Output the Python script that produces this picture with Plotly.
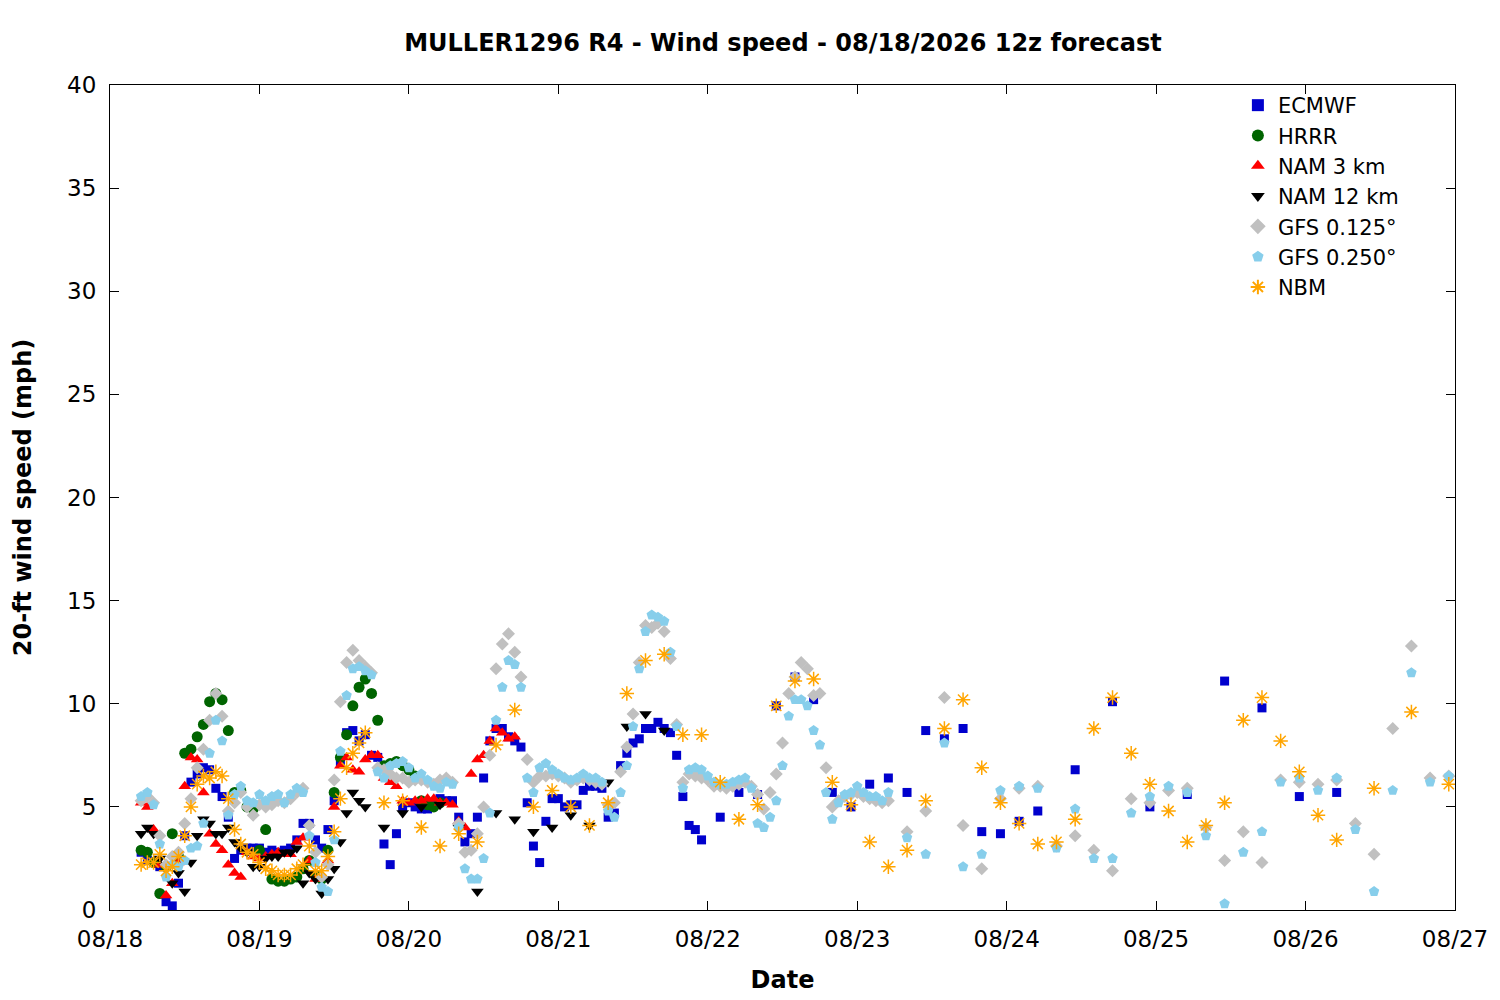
import plotly.graph_objects as go
import pandas as pd

# forecast valid times are stored as hours after 08/18 00:00 local (12z run = hour 5)
BASE = pd.Timestamp("2026-08-18 00:00")

# ECMWF: hourly to +90h, 3-hourly to +144h, then 6-hourly
ecmwf_hours = list(range(5, 96)) + list(range(98, 150, 3)) + list(range(155, 198, 6))
ecmwf_mph = [2.8, 2.4, 2.3, 2.1, 0.4, 0.2, 1.3, 3.6, 6.2, 6.6,
             6.9, 6.8, 5.9, 5.5, 4.5, 2.5, 2.9, 3.0, 3.0, 3.0,
             2.8, 2.9, 2.8, 2.9, 3.0, 3.4, 4.2, 4.2, 3.4, 3.0,
             3.9, 5.3, 7.1, 8.6, 8.7, 8.2, 8.5, 7.5, 7.4, 3.2,
             2.2, 3.7, 5.0, 5.2, 5.0, 4.9, 4.9, 5.2, 5.4, 5.3,
             5.3, 4.5, 3.3, 3.7, 4.5, 6.4, 8.2, 8.8, 8.8, 8.4,
             8.2, 7.9, 5.2, 3.1, 2.3, 4.3, 5.4, 5.4, 5.0, 5.1,
             5.1, 5.8, 6.0, 6.0, 5.9, 4.5, 4.7, 7.0, 7.6, 8.1,
             8.3, 8.8, 8.8, 9.1, 8.8, 8.6, 7.5, 5.5, 4.1, 3.9, 3.4,
             4.5, 5.7, 5.6, 9.9, 11.3, 10.2, 5.7, 5.0, 6.1, 6.4,
             5.7, 8.7, 8.3, 8.8, 3.8, 3.7, 4.3, 4.8,
             6.8, 10.1, 5.0, 5.6, 11.1, 9.8, 5.5, 5.7]

# HRRR: hourly to +48h
hrrr_hours = list(range(5, 54))
hrrr_mph = [2.9, 2.8, 2.3, 0.8, 2.1, 3.7, 2.6, 7.6, 7.8, 8.4,
            9.0, 10.1, 10.5, 10.2, 8.7, 5.7, 5.8, 5.0, 4.9, 2.9,
            3.9, 1.5, 1.4, 1.4, 1.5, 1.6, 2.0, 2.4, 1.7, 1.5,
            2.9, 5.7, 7.4, 8.5, 9.9, 10.8, 11.2, 10.5, 9.2, 7.0,
            7.1, 7.2, 7.0, 6.8, 6.5, 5.3, 5.1, 5.0, 5.2]

# NAM 3 km: hourly to +60h
nam3_hours = list(range(5, 66))
nam3_mph = [5.2, 5.0, 3.9, 2.2, 0.7, 1.3, 2.3, 6.0, 7.4, 7.3,
            5.7, 3.7, 3.2, 2.9, 2.2, 1.8, 1.6, 2.8, 2.6, 2.5,
            2.6, 2.7, 2.8, 2.7, 2.7, 3.3, 3.5, 2.4, 1.5, 1.6,
            2.4, 5.0, 7.0, 7.4, 6.8, 6.7, 7.3, 7.5, 7.5, 6.4,
            6.2, 6.0, 5.3, 5.2, 5.3, 5.3, 5.4, 5.4, 5.2, 5.2,
            5.1, 4.3, 4.0, 6.6, 7.3, 7.5, 8.2, 8.8, 8.6, 8.3, 8.4]

# NAM 12 km: hourly to +36h, then 3-hourly to +84h
nam12_hours = list(range(5, 42)) + list(range(44, 90, 3))
nam12_mph = [3.7, 4.0, 3.7, 2.5, 2.2, 1.3, 1.8, 0.9, 2.3, 3.6,
             4.4, 4.2, 3.7, 3.7, 4.0, 3.3, 3.0, 2.8, 2.1, 2.1,
             2.5, 2.6, 2.6, 2.8, 2.8, 3.0, 1.3, 1.8, 1.5, 0.8,
             1.5, 2.0, 3.3, 4.7, 5.7, 5.3, 5.0,
             4.0, 4.7, 5.0, 5.1, 4.0, 0.9, 4.7, 4.4, 3.8, 4.0,
             4.6, 4.1, 6.2, 8.9, 9.5, 8.7]

# GFS: hourly to +120h, then 3-hourly
gfs_hours = list(range(5, 126)) + list(range(128, 216, 3))
gfs125_mph = [5.3, 5.5, 5.2, 3.6, 2.2, 2.6, 2.8, 4.2, 5.4, 6.9,
              7.8, 9.2, 10.5, 9.4, 4.8, 5.2, 5.7, 5.0, 4.6, 5.1,
              5.0, 5.1, 5.3, 5.2, 5.4, 5.7, 5.9, 4.1, 2.8, 1.6,
              2.2, 6.3, 10.1, 12.0, 12.6, 12.1, 11.8, 11.5, 6.9, 6.8,
              6.6, 6.4, 6.4, 6.2, 6.3, 6.3, 6.2, 6.1, 6.3, 6.4,
              6.2, 4.2, 2.8, 2.9, 3.7, 5.0, 7.5, 11.7, 12.9, 13.4,
              12.5, 11.3, 7.3, 6.2, 6.5, 6.5, 6.6, 6.5, 6.4, 6.2,
              6.3, 6.4, 6.3, 6.2, 6.1, 5.1, 5.2, 6.7, 7.9, 9.5,
              12.0, 13.8, 13.7, 13.9, 13.5, 12.2, 9.0, 6.2, 6.6, 6.5,
              6.4, 6.3, 6.0, 6.0, 5.9, 6.0, 6.1, 6.2, 6.0, 5.6,
              4.9, 5.7, 6.6, 8.1, 10.5, 11.3, 12.0, 11.7, 10.4, 10.5,
              6.9, 5.0, 5.3, 5.5, 5.6, 5.7, 5.5, 5.4, 5.3, 5.2, 5.3,
              3.8, 4.8, 10.3, 4.1, 2.0, 5.4, 5.9, 6.0, 3.1, 3.6,
              2.9, 1.9, 5.4, 5.2, 5.8, 5.9, 4.0, 2.4, 3.8, 2.3,
              6.3, 6.2, 6.1, 6.3, 4.2, 2.7, 8.8, 12.8, 6.4, 6.5]
gfs250_mph = [5.5, 5.7, 5.1, 3.2, 1.6, 2.2, 2.1, 2.4, 3.0, 3.1,
              4.2, 7.6, 9.2, 8.2, 4.6, 5.6, 6.0, 5.3, 5.2, 5.6,
              5.3, 5.5, 5.6, 5.2, 5.6, 5.9, 5.7, 3.6, 2.3, 1.1,
              0.9, 3.4, 7.7, 10.4, 11.7, 11.8, 11.6, 11.4, 6.7, 6.4,
              7.0, 7.1, 7.2, 6.9, 6.4, 6.6, 6.3, 6.0, 5.9, 6.2,
              6.1, 4.0, 2.0, 1.5, 1.5, 2.5, 4.7, 9.2, 10.8, 12.1,
              11.9, 10.8, 6.4, 5.7, 6.9, 7.1, 6.8, 6.6, 6.4, 6.3,
              6.4, 6.6, 6.4, 6.4, 6.2, 4.8, 4.5, 5.7, 7.0, 8.9,
              11.7, 13.5, 14.3, 14.2, 14.0, 12.5, 8.9, 5.9, 6.8, 6.9,
              6.8, 6.5, 6.2, 6.1, 6.1, 6.2, 6.3, 6.4, 5.9, 4.2,
              4.0, 4.5, 5.3, 7.0, 9.4, 10.2, 10.2, 9.9, 8.7, 8.0,
              5.7, 4.4, 5.2, 5.6, 5.7, 6.0, 5.7, 5.5, 5.5, 5.3, 5.7,
              3.5, 2.7, 8.1, 2.1, 2.7, 5.8, 6.0, 5.9, 3.0, 4.9,
              2.5, 2.5, 4.7, 5.5, 6.0, 5.7, 3.6, 0.3, 2.8, 3.8,
              6.2, 6.4, 5.8, 6.4, 3.9, 0.9, 5.8, 11.5, 6.2, 6.5]

# NBM: hourly to +36h, 3-hourly to +192h, then 6-hourly
nbm_hours = list(range(5, 42)) + list(range(44, 198, 3)) + [203, 209, 215]
nbm_mph = [2.2, 2.3, 2.3, 2.7, 1.9, 2.1, 2.6, 3.6, 5.0, 6.1,
           6.5, 6.4, 6.7, 6.5, 5.4, 3.9, 3.2, 2.8, 2.7, 2.3,
           2.0, 1.9, 1.7, 1.7, 1.7, 2.0, 2.2, 3.1, 1.9, 1.9,
           2.6, 3.8, 5.4, 6.9, 7.6, 8.1, 8.6,
           5.2, 5.3, 4.0, 3.1, 3.7, 3.3, 8.0, 9.7, 5.0, 5.8,
           5.0, 4.1, 5.2, 10.5, 12.1, 12.4, 8.5, 8.5, 6.2, 4.4,
           5.1, 9.9, 11.1, 11.2, 6.2, 5.1, 3.3, 2.1, 2.9, 5.3,
           8.8, 10.2, 6.9, 5.2, 4.2, 3.2, 3.3, 4.4, 8.8, 10.3,
           7.6, 6.1, 4.8, 3.3, 4.1, 5.2, 9.2, 10.3, 8.2, 6.7,
           4.6, 3.4,
           5.9, 9.6, 6.1]

FONT = "DejaVu Sans"


def when(hours):
    return BASE + pd.to_timedelta(hours, unit="h")


series = [
    ("ECMWF", ecmwf_hours, ecmwf_mph, "square", "#0000cd", 9),
    ("HRRR", hrrr_hours, hrrr_mph, "circle", "#006400", 11),
    ("NAM 3 km", nam3_hours, nam3_mph, "triangle-up", "#ff0000", 11),
    ("NAM 12 km", nam12_hours, nam12_mph, "triangle-down", "#000000", 11),
    ("GFS 0.125°", gfs_hours, gfs125_mph, "diamond", "#c0c0c0", 10),
    ("GFS 0.250°", gfs_hours, gfs250_mph, "pentagon", "#87ceeb", 11),
]

fig = go.Figure()
for name, hrs, vals, sym, col, sz in series:
    fig.add_trace(go.Scatter(
        x=when(hrs), y=vals, mode="markers", name=name,
        marker=dict(symbol=sym, color=col, size=sz, line=dict(width=0)),
    ))

fig.add_trace(go.Scatter(
    x=when(nbm_hours), y=nbm_mph, mode="markers", name="NBM",
    marker=dict(symbol="asterisk-open", size=12, color="#ffa500",
                line=dict(color="#ffa500", width=1.5)),
))

# page body adds an 8px offset, so the figure is sized to fit inside the window
fig.update_layout(
    width=1492, height=992,
    paper_bgcolor="white", plot_bgcolor="white",
    margin=dict(l=102, r=45, t=77, b=90),
    font=dict(family=FONT, size=22, color="black"),
    title=dict(text="<b>MULLER1296 R4 - Wind speed - 08/18/2026 12z forecast</b>",
               x=0.5194, xanchor="center", y=0.9647, yanchor="middle",
               font=dict(size=24)),
    legend=dict(x=0.962, xanchor="right", y=1.0, yanchor="top",
                bgcolor="rgba(0,0,0,0)", font=dict(size=21),
                itemsizing="constant", tracegroupgap=0),
    showlegend=True,
)
fig.update_xaxes(
    type="date", range=[BASE, BASE + pd.Timedelta(days=9)],
    dtick=86400000, tickformat="%m/%d", ticklabelstandoff=8,
    ticks="inside", ticklen=9, tickcolor="black",
    showline=True, linecolor="black", linewidth=1, mirror="allticks",
    showgrid=False, zeroline=False, tickfont=dict(size=23),
    title=dict(text="<b>Date</b>", font=dict(size=24), standoff=20),
)
fig.update_yaxes(
    range=[0, 40], dtick=5, ticklabelstandoff=8,
    ticks="inside", ticklen=9, tickcolor="black",
    showline=True, linecolor="black", linewidth=1, mirror="allticks",
    showgrid=False, zeroline=False, tickfont=dict(size=23),
    title=dict(text="<b>20-ft wind speed (mph)</b>", font=dict(size=24), standoff=28),
)

fig.write_html("out.html")
